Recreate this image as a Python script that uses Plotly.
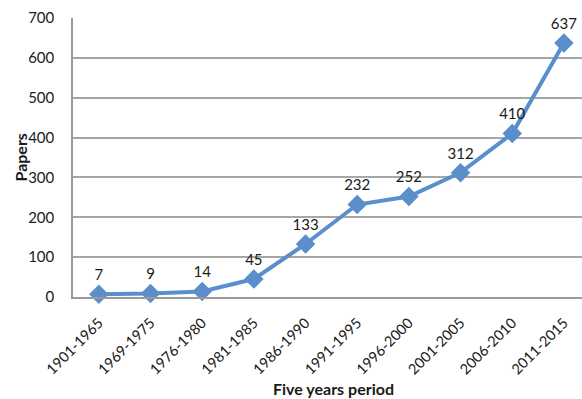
import plotly.graph_objects as go

periods = ["1901-1965", "1969-1975", "1976-1980", "1981-1985", "1986-1990",
           "1991-1995", "1996-2000", "2001-2005", "2006-2010", "2011-2015"]
papers = [7, 9, 14, 45, 133, 232, 252, 312, 410, 637]

FONT = "Lato"
fig = go.Figure()
fig.add_trace(go.Scatter(
    x=periods, y=papers, mode="lines+markers+text",
    text=[str(v) for v in papers], textposition="top center",
    textfont=dict(family=FONT, size=15, color="#1a1a1a"),
    line=dict(color="#5A8FCC", width=4),
    marker=dict(symbol="diamond", size=15, color="#5A8FCC"),
    cliponaxis=False,
))
fig.update_layout(
    width=582, height=399,
    margin=dict(l=73, r=0, t=18, b=102),
    paper_bgcolor="white", plot_bgcolor="white",
    showlegend=False,
    font=dict(family=FONT, size=15, color="#1a1a1a"),
    xaxis=dict(
        type="category", range=[-0.5, 9.35],
        tickangle=-45, showgrid=False,
        showline=True, linecolor="#9a9a9a", linewidth=1.5,
        ticks="", ticklabelstandoff=10,
        tickfont=dict(family=FONT, size=14.5),
    ),
    yaxis=dict(
        range=[0, 700], dtick=100, showgrid=True, gridcolor="#a6a6a6", gridwidth=1.5,
        showline=True, linecolor="#9a9a9a", linewidth=1.5,
        ticks="", ticklabelstandoff=14,
        tickfont=dict(family=FONT, size=15),
        zeroline=False,
    ),
    annotations=[
        dict(text="<b>Five years period</b>", x=0.511, xref="paper",
             y=-(388 - 297) / (297 - 18), yref="paper",
             yanchor="middle", showarrow=False, font=dict(family=FONT, size=16)),
        dict(text="<b>Papers</b>", x=-(73 - 20) / (582 - 73), xref="paper",
             y=0.5, yref="paper", textangle=-90, xanchor="center", yanchor="middle",
             showarrow=False, font=dict(family=FONT, size=16)),
    ],
)
fig.write_html("out.html")
